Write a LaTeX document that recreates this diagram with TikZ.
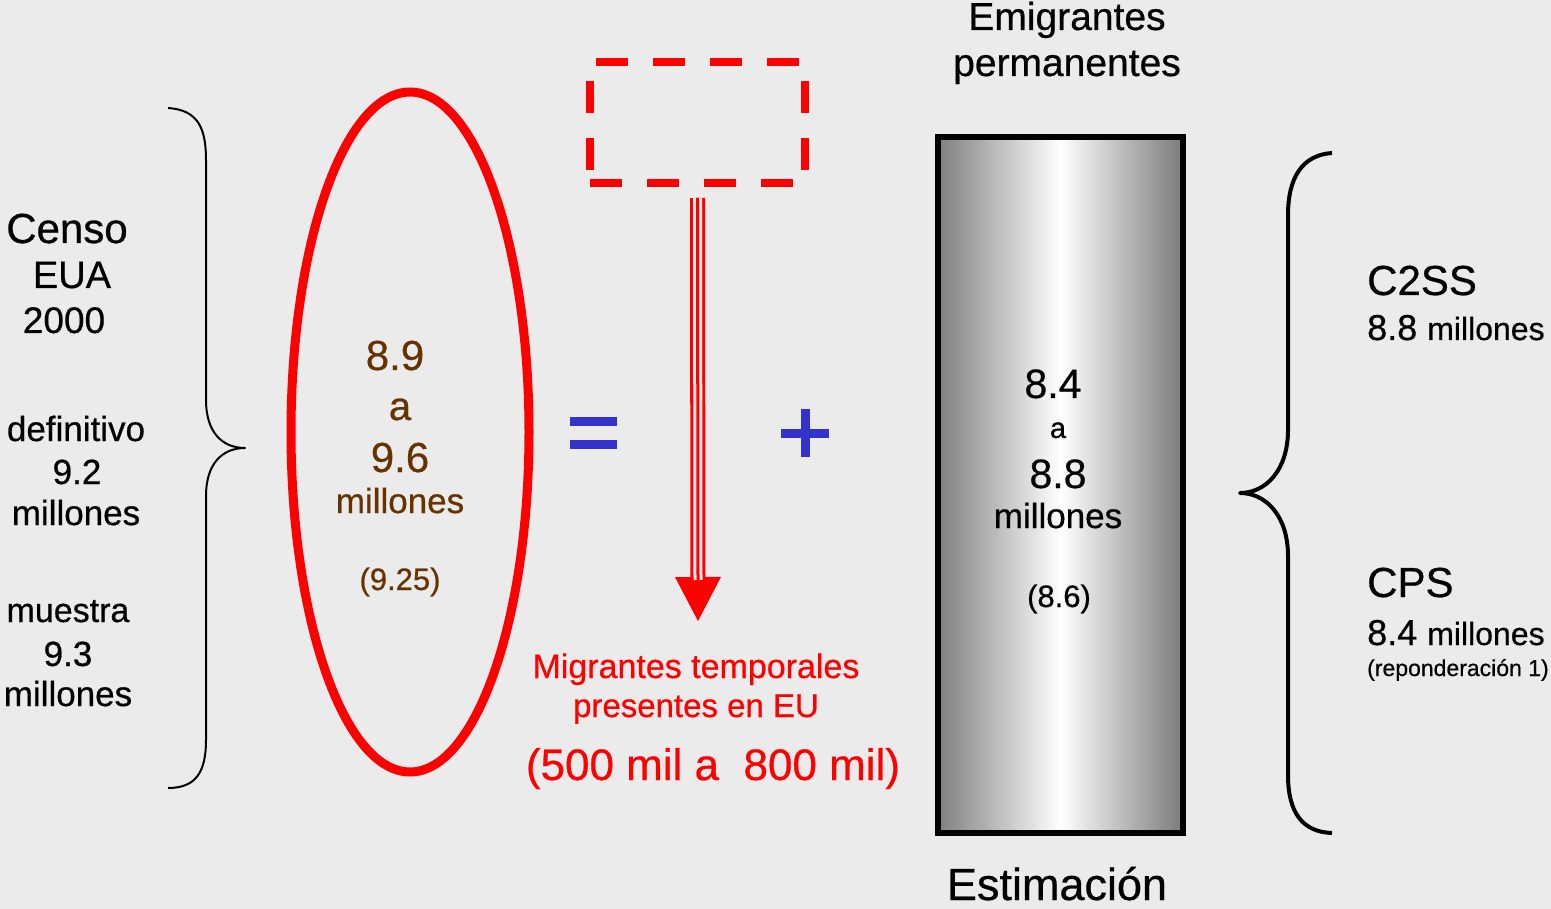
\documentclass[tikz,border=0pt]{standalone}
\usepackage{fontspec}
\setmainfont{Liberation Sans}[FakeBold=0.6]
\usetikzlibrary{arrows.meta}
\definecolor{fondo}{RGB}{235,235,235}
\definecolor{cafe}{RGB}{102,51,0}
\definecolor{azul}{RGB}{51,51,204}
\newcommand{\fsz}[1]{\fontsize{#1}{#1}\selectfont}

\begin{document}
\begin{tikzpicture}[x=1pt,y=-1pt,
  txt/.style={anchor=base,inner sep=0pt},
  llave/.style={line width=#1,line join=round},
  signo/.style={azul,line width=9pt}]
\fill[fondo] (0,0) rectangle (1551,909);
\useasboundingbox (0,0) rectangle (1551,909);
% izquierda: censo
\node[txt] (censo) at (67,243) {\fsz{42}Censo};
\node[txt] (eua) at (72,288) {\fsz{38}EUA};
\node[txt] (anio) at (64,333) {\fsz{37}2000};
\node[txt] (def) at (76,441) {\fsz{35}definitivo};
\node[txt] (def2) at (77,484) {\fsz{35}9.2};
\node[txt] (def3) at (76,525) {\fsz{35}millones};
\node[txt] (mue) at (68,622) {\fsz{34}muestra};
\node[txt] (mue2) at (68,666) {\fsz{35}9.3};
\node[txt] (mue3) at (68,706) {\fsz{35}millones};
\draw[llave=2pt] (168,108) .. controls (198,110) and (206,128) .. (206,160) -- (206,400)
  .. controls (206,432) and (222,448) .. (245,448) .. controls (222,448) and (206,464) .. (206,496)
  -- (206,740) .. controls (206,772) and (196,788) .. (168,788);
% ovalo
\draw[red,line width=9pt] (410,432) ellipse (119 and 340);
\node[txt,cafe] (ov1) at (395,370) {\fsz{42}8.9};
\node[txt,cafe] (ov2) at (400,420) {\fsz{40}a};
\node[txt,cafe] (ov3) at (400,472) {\fsz{42}9.6};
\node[txt,cafe] (ov4) at (400,513) {\fsz{35}millones};
\node[txt,cafe] (ov5) at (400,590) {\fsz{31}(9.25)};
% signos
\draw[signo] (570,421) -- (617,421);
\draw[signo] (570,444) -- (617,444);
\draw[signo] (781,433) -- (829,433);
\draw[signo] (805,409) -- (805,457);
% temporales
\node[draw=red,line width=8pt,dash pattern=on 32pt off 25pt,minimum width=215pt,minimum height=121pt,inner sep=0pt] (temp) at (697.5,122.5) {};
\coordinate (tip) at (698,621);
\draw[red,line width=15pt,-{Triangle[width=46pt,length=44pt,line width=0pt]}] ([yshift=-11pt]temp.south) -- (tip);
\draw[fondo,line width=9pt] ([yshift=-11pt]temp.south) -- (698,580);
\draw[red,line width=3pt] ([yshift=-11pt]temp.south) -- (698,580);
\node[txt,red] (mig1) at (696,678) {\fsz{34}Migrantes temporales};
\node[txt,red] (mig2) at (696,717) {\fsz{33}presentes en EU};
\node[txt,red] (mig3) at (713,780) {\fsz{44}(500 mil a\ \ 800 mil)};
% permanentes
\node[txt] (emi1) at (1067,30) {\fsz{39}Emigrantes};
\node[txt] (emi2) at (1067,76) {\fsz{39}permanentes};
\node[draw=black,line width=6pt,minimum width=245pt,minimum height=696pt,inner sep=0pt,
  left color=black!50,right color=black!52,middle color=white] (est) at (1060.5,485) {};
\node[txt] (es1) at (1053,398) {\fsz{41}8.4};
\node[txt] (es2) at (1058,438) {\fsz{29}a};
\node[txt] (es3) at (1058,488) {\fsz{41}8.8};
\node[txt] (es4) at (1058,528) {\fsz{35}millones};
\node[txt] (es5) at (1059,607) {\fsz{31}(8.6)};
\node[txt] (estim) at (1057,900) {\fsz{45}Estimación};
% derecha: fuentes
\draw[llave=4pt] (1332,153) .. controls (1302,155) and (1288,178) .. (1288,215) -- (1288,430)
  .. controls (1288,470) and (1266,493) .. (1240,493) .. controls (1266,493) and (1288,516) .. (1288,556)
  -- (1288,775) .. controls (1288,812) and (1302,832) .. (1332,833);
\node[txt,anchor=base west] (c2ss) at (1367,295) {\fsz{42}C2SS};
\node[txt,anchor=base west] (c2ss2) at (1367,340) {\fsz{36}8.8 \fsz{32}millones};
\node[txt,anchor=base west] (cps) at (1367,597) {\fsz{42}CPS};
\node[txt,anchor=base west] (cps3) at (1367,676) {\fsz{23}(reponderación 1)};
\node[txt,anchor=base west] (cps2) at (1367,645) {\fsz{36}8.4 \fsz{32}millones};
\end{tikzpicture}
\end{document}
